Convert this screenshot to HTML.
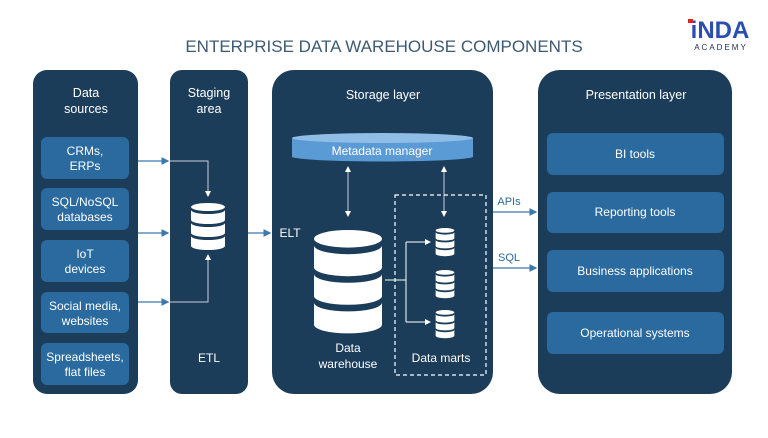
<!DOCTYPE html>
<html><head><meta charset="utf-8"><style>
body{margin:0;background:#fff;}
svg text{font-family:"Liberation Sans",sans-serif;}
</style></head><body>
<svg width="768" height="433" viewBox="0 0 768 433" xmlns="http://www.w3.org/2000/svg">
<defs>
<marker id="a" markerWidth="6" markerHeight="6" refX="5" refY="3" orient="auto"><path d="M0,0 L6,3 L0,6z" fill="#3a78ad"/></marker>
<marker id="w" markerWidth="6" markerHeight="6" refX="5" refY="3" orient="auto-start-reverse"><path d="M0,0 L6,3 L0,6z" fill="#fff"/></marker>
<g id="db" fill="#fff">
<ellipse cx="0" cy="4" rx="17" ry="4"/>
<path d="M-17,7 v10 a17,4 0 0 0 34,0 v-10 a17,4 0 0 1 -34,0z"/>
<path d="M-17,20 v10 a17,4 0 0 0 34,0 v-10 a17,4 0 0 1 -34,0z"/>
<path d="M-17,33 v10 a17,4 0 0 0 34,0 v-10 a17,4 0 0 1 -34,0z"/>
</g>
</defs>
<text x="384" y="52" text-anchor="middle" font-size="17" fill="#3d5a74">ENTERPRISE DATA WAREHOUSE COMPONENTS</text>
<text x="720" y="38" text-anchor="middle" font-size="24" font-weight="bold" fill="#2a4fb0">iNDA</text>
<rect x="688" y="19" width="5" height="4" fill="#d8262e"/>
<text x="721" y="50" text-anchor="middle" font-size="8" letter-spacing="2" fill="#1b2d4a">ACADEMY</text>

<g fill="#1b3d5a">
<rect x="33" y="70" width="105" height="324" rx="14"/>
<rect x="170" y="70" width="78" height="324" rx="12"/>
<rect x="272" y="70" width="221" height="324" rx="22"/>
<rect x="538" y="70" width="194" height="324" rx="22"/>
</g>
<g fill="#fff" font-size="12.5" text-anchor="middle">
<text x="86" y="97">Data</text><text x="86" y="113">sources</text>
<text x="209" y="97">Staging</text><text x="209" y="113">area</text>
<text x="383" y="99">Storage layer</text>
<text x="636" y="99">Presentation layer</text>
</g>
<g fill="#2a6a9e">
<rect x="41" y="137" width="88" height="42" rx="6"/>
<rect x="41" y="188" width="88" height="42" rx="6"/>
<rect x="41" y="240" width="88" height="42" rx="6"/>
<rect x="41" y="292" width="88" height="41" rx="6"/>
<rect x="41" y="343" width="88" height="42" rx="6"/>
<rect x="547" y="133" width="177" height="42" rx="6"/>
<rect x="547" y="192" width="177" height="41" rx="6"/>
<rect x="547" y="250" width="177" height="42" rx="6"/>
<rect x="547" y="312" width="177" height="42" rx="6"/>
</g>
<g fill="#fff" font-size="12" text-anchor="middle">
<text x="85" y="155">CRMs,</text><text x="85" y="170">ERPs</text>
<text x="85" y="206">SQL/NoSQL</text><text x="85" y="221">databases</text>
<text x="85" y="258">IoT</text><text x="85" y="273">devices</text>
<text x="85" y="310">Social media,</text><text x="85" y="325">websites</text>
<text x="85" y="361">Spreadsheets,</text><text x="85" y="376">flat files</text>
<text x="635" y="158">BI tools</text>
<text x="635" y="216">Reporting tools</text>
<text x="635" y="275">Business applications</text>
<text x="635" y="337">Operational systems</text>
<text x="209" y="362">ETL</text>
<text x="290" y="237">ELT</text>
<text x="348" y="352">Data</text><text x="348" y="368">warehouse</text>
<text x="441" y="362">Data marts</text>
</g>
<g stroke="#3a78ad" stroke-width="1.3" fill="none">
<path d="M138,161 H168" marker-end="url(#a)"/>
<path d="M138,233 H168" marker-end="url(#a)"/>
<path d="M138,302 H168" marker-end="url(#a)"/>
<path d="M248,233 H270" marker-end="url(#a)"/>
<path d="M493,212 H536" marker-end="url(#a)"/>
<path d="M493,268 H536" marker-end="url(#a)"/>
</g>
<g stroke="#ccd" stroke-width="1" fill="none">
<path d="M170,161 H208 V196" marker-end="url(#w)"/>
<path d="M170,302 H208 V255" marker-end="url(#w)"/>
<path d="M348,167 V216" marker-start="url(#w)" marker-end="url(#w)"/>
<path d="M444,167 V216" marker-start="url(#w)" marker-end="url(#w)"/>
<path d="M385,280 H406 M406,242 V322 M406,242 H428 M406,322 H428" stroke="#fff"/>
<path d="M406,242 H430" marker-end="url(#w)" stroke="#fff"/>
<path d="M406,322 H430" marker-end="url(#w)" stroke="#fff"/>
</g>
<text x="509" y="205" fill="#2a6a9e" font-size="11" text-anchor="middle">APIs</text>
<text x="509" y="261" fill="#2a6a9e" font-size="11" text-anchor="middle">SQL</text>
<!-- metadata cylinder -->
<path d="M292,138 V157 A91,5 0 0 0 473,157 V138z" fill="#5b9bd5"/>
<ellipse cx="382.5" cy="138" rx="90.5" ry="5" fill="#8fbde6"/>
<text x="382" y="155" fill="#fff" font-size="12" text-anchor="middle">Metadata manager</text>
<rect x="395" y="195" width="91" height="180" fill="none" stroke="#fff" stroke-width="1.2" stroke-dasharray="4,3"/>
<use href="#db" transform="translate(208,203) scale(1,1)"/>
<use href="#db" transform="translate(348,230) scale(2,2.2)"/>
<use href="#db" transform="translate(445,228) scale(0.55,0.6)"/>
<use href="#db" transform="translate(445,270) scale(0.55,0.6)"/>
<use href="#db" transform="translate(445,310) scale(0.55,0.6)"/>
</svg>
</body></html>
